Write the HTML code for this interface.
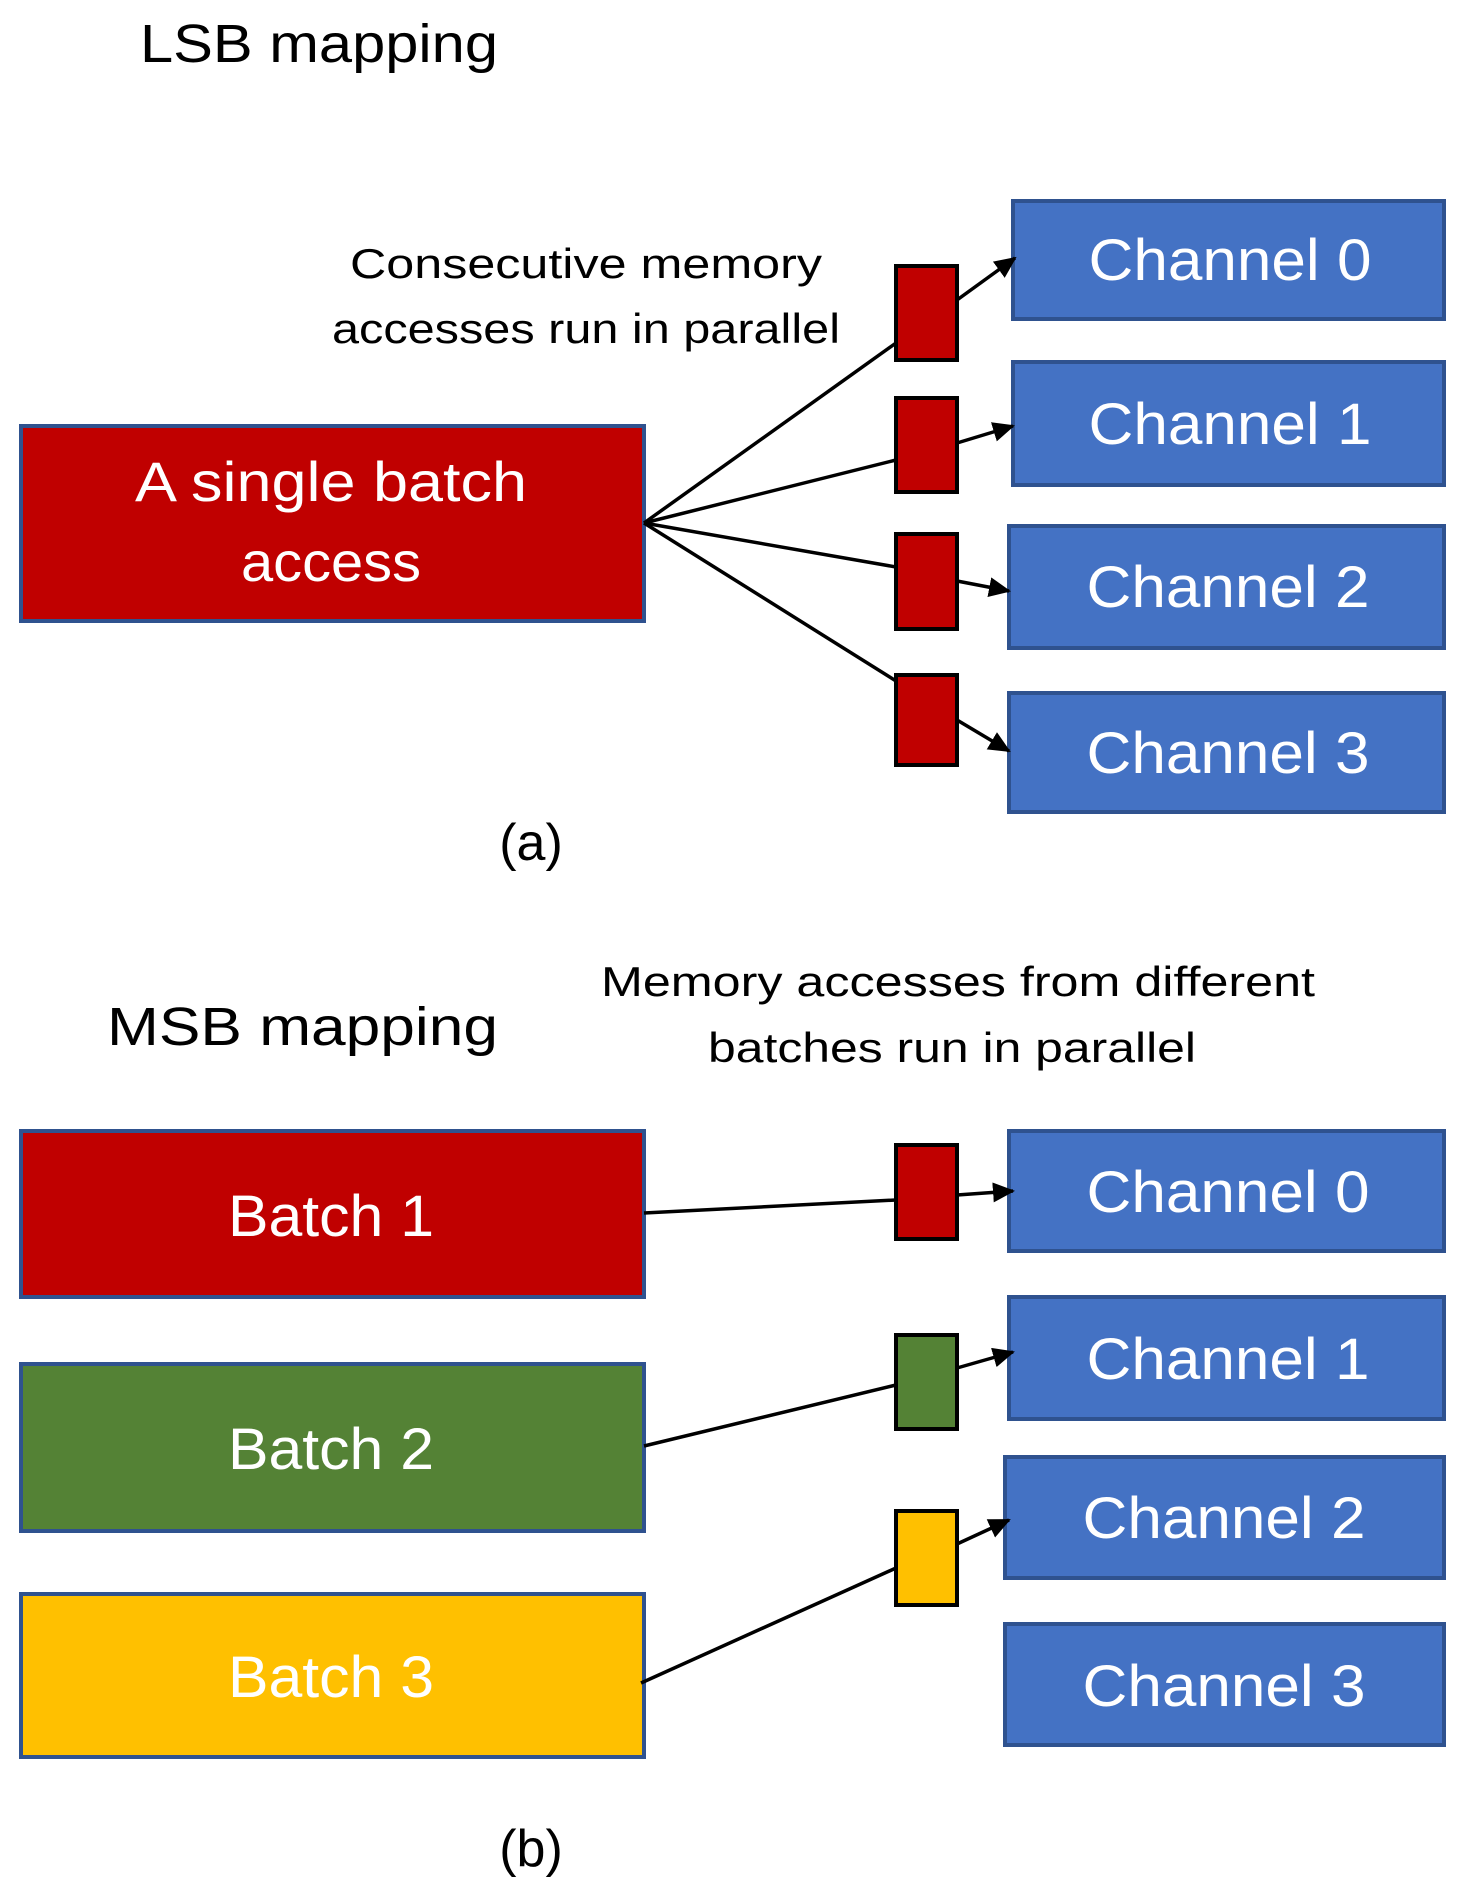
<!DOCTYPE html>
<html><head><meta charset="utf-8"><style>
html,body{margin:0;padding:0;background:#fff;}
svg{display:block;}
text{font-family:"Liberation Sans",sans-serif;}
</style></head><body>
<svg width="1459" height="1904" viewBox="0 0 1459 1904" xmlns="http://www.w3.org/2000/svg">
<defs>
<marker id="ah" markerWidth="22" markerHeight="20" refX="20" refY="10" orient="auto" markerUnits="userSpaceOnUse" viewBox="0 0 22 20">
<path d="M0,0 L22,10 L0,20 z" fill="#000"/>
</marker>
</defs>
<style>
.w{fill:#fff;text-anchor:middle;}
.k{fill:#000;text-anchor:middle;}
.ch{fill:#4472C4;stroke:#2F528F;stroke-width:4;}
.sm{stroke:#000;stroke-width:4;}
.ln{stroke:#000;stroke-width:3.5;fill:none;}
</style>
<!-- (a) -->
<text x="140" y="62" font-size="54" fill="#000" textLength="358" lengthAdjust="spacingAndGlyphs">LSB mapping</text>
<text class="k" x="586" y="278" font-size="42" textLength="472" lengthAdjust="spacingAndGlyphs">Consecutive memory</text>
<text class="k" x="586" y="343" font-size="42" textLength="508" lengthAdjust="spacingAndGlyphs">accesses run in parallel</text>

<rect x="21" y="426" width="623" height="195" fill="#C00000" stroke="#2F528F" stroke-width="4"/>
<text class="w" x="331" y="501" font-size="56" textLength="392" lengthAdjust="spacingAndGlyphs">A single batch</text>
<text class="w" x="331" y="581" font-size="56" textLength="180" lengthAdjust="spacingAndGlyphs">access</text>

<rect class="ch" x="1013" y="201" width="431" height="118"/>
<rect class="ch" x="1013" y="362" width="431" height="123"/>
<rect class="ch" x="1009" y="526" width="435" height="122"/>
<rect class="ch" x="1009" y="693" width="435" height="119"/>
<text class="w" x="1230" y="280" font-size="58" textLength="283" lengthAdjust="spacingAndGlyphs">Channel 0</text>
<text class="w" x="1230" y="444" font-size="58" textLength="283" lengthAdjust="spacingAndGlyphs">Channel 1</text>
<text class="w" x="1228" y="607" font-size="58" textLength="283" lengthAdjust="spacingAndGlyphs">Channel 2</text>
<text class="w" x="1228" y="773" font-size="58" textLength="283" lengthAdjust="spacingAndGlyphs">Channel 3</text>

<line class="ln" x1="644" y1="523" x2="896" y2="343"/>
<line class="ln" x1="644" y1="523" x2="896" y2="460"/>
<line class="ln" x1="644" y1="523" x2="896" y2="567"/>
<line class="ln" x1="644" y1="523" x2="896" y2="681"/>
<line class="ln" x1="957" y1="300" x2="1015" y2="258" marker-end="url(#ah)"/>
<line class="ln" x1="957" y1="443" x2="1013" y2="426" marker-end="url(#ah)"/>
<line class="ln" x1="957" y1="581" x2="1009" y2="591" marker-end="url(#ah)"/>
<line class="ln" x1="957" y1="720" x2="1009" y2="751" marker-end="url(#ah)"/>
<rect class="sm" x="896" y="266" width="61" height="94" fill="#C00000"/>
<rect class="sm" x="896" y="398" width="61" height="94" fill="#C00000"/>
<rect class="sm" x="896" y="534" width="61" height="95" fill="#C00000"/>
<rect class="sm" x="896" y="675" width="61" height="90" fill="#C00000"/>

<text class="k" x="531" y="860" font-size="52">(a)</text>

<!-- (b) -->
<text x="107" y="1045" font-size="54" fill="#000" textLength="391" lengthAdjust="spacingAndGlyphs">MSB mapping</text>
<text class="k" x="958" y="996" font-size="42" textLength="714" lengthAdjust="spacingAndGlyphs">Memory accesses from different</text>
<text class="k" x="952" y="1062" font-size="42" textLength="488" lengthAdjust="spacingAndGlyphs">batches run in parallel</text>

<rect x="21" y="1131" width="623" height="166" fill="#C00000" stroke="#2F528F" stroke-width="4"/>
<rect x="21" y="1364" width="623" height="167" fill="#548235" stroke="#2F528F" stroke-width="4"/>
<rect x="21" y="1594" width="623" height="163" fill="#FFC000" stroke="#2F528F" stroke-width="4"/>
<text class="w" x="331" y="1236" font-size="58" textLength="206" lengthAdjust="spacingAndGlyphs">Batch 1</text>
<text class="w" x="331" y="1469" font-size="58" textLength="206" lengthAdjust="spacingAndGlyphs">Batch 2</text>
<text class="w" x="331" y="1697" font-size="58" textLength="206" lengthAdjust="spacingAndGlyphs">Batch 3</text>

<rect class="ch" x="1009" y="1131" width="435" height="120"/>
<rect class="ch" x="1009" y="1297" width="435" height="122"/>
<rect class="ch" x="1005" y="1457" width="439" height="121"/>
<rect class="ch" x="1005" y="1624" width="439" height="121"/>
<text class="w" x="1228" y="1212" font-size="58" textLength="283" lengthAdjust="spacingAndGlyphs">Channel 0</text>
<text class="w" x="1228" y="1379" font-size="58" textLength="283" lengthAdjust="spacingAndGlyphs">Channel 1</text>
<text class="w" x="1224" y="1538" font-size="58" textLength="283" lengthAdjust="spacingAndGlyphs">Channel 2</text>
<text class="w" x="1224" y="1706" font-size="58" textLength="283" lengthAdjust="spacingAndGlyphs">Channel 3</text>

<line class="ln" x1="644" y1="1213" x2="896" y2="1200"/>
<line class="ln" x1="644" y1="1446" x2="896" y2="1385"/>
<line class="ln" x1="641" y1="1683" x2="896" y2="1568"/>
<line class="ln" x1="957" y1="1195" x2="1013" y2="1191" marker-end="url(#ah)"/>
<line class="ln" x1="957" y1="1368" x2="1013" y2="1352" marker-end="url(#ah)"/>
<line class="ln" x1="957" y1="1544" x2="1009" y2="1520" marker-end="url(#ah)"/>
<rect class="sm" x="896" y="1145" width="61" height="94" fill="#C00000"/>
<rect class="sm" x="896" y="1335" width="61" height="94" fill="#548235"/>
<rect class="sm" x="896" y="1511" width="61" height="94" fill="#FFC000"/>

<text class="k" x="531" y="1866" font-size="52">(b)</text>
</svg>
</body></html>
